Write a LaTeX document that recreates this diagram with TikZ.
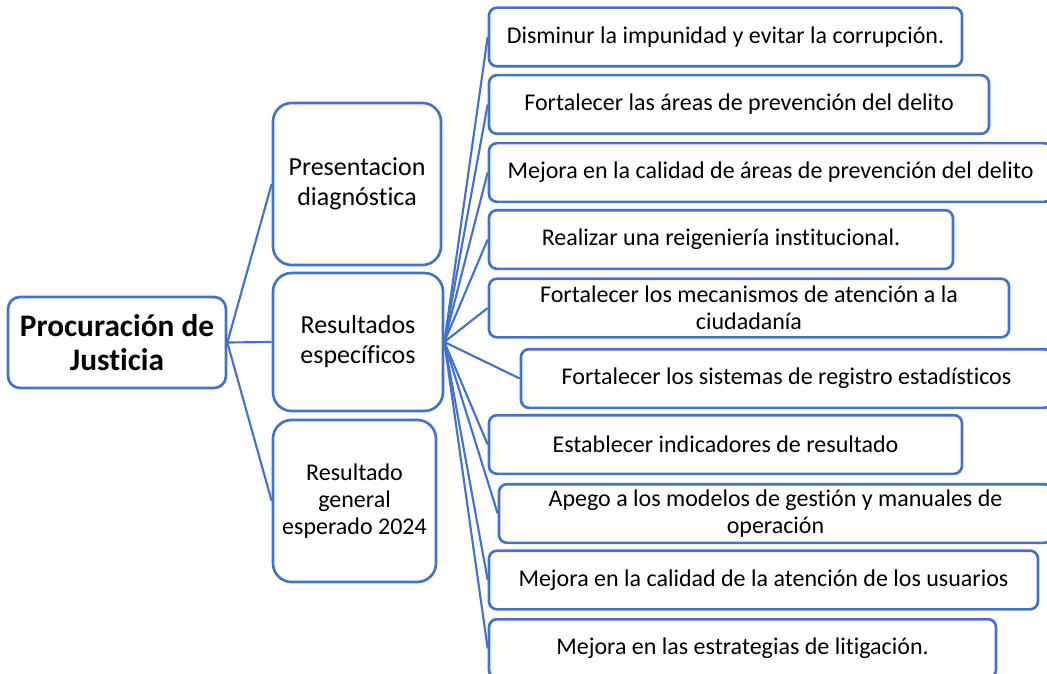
\documentclass[tikz,border=0pt]{standalone}
\usepackage{fontspec}
\setmainfont{Carlito}[RawFeature={-liga;-clig;-dlig;-calt}]
\usepackage{xcolor}
\usepackage{tikz}
\definecolor{smblue}{HTML}{4472C4}
\tikzset{
	mainbox/.style={draw=smblue, line width=2pt, rounded corners=9pt, align=center, inner sep=2pt, minimum width=163.5pt, minimum height=68.25pt, font=\fontsize{23.5}{25.5}\selectfont\bfseries},
	midbox/.style={draw=smblue, line width=2pt, rounded corners=14pt, align=center, inner sep=2pt, minimum height=121.5pt, font=\fontsize{19.5}{22.5}\selectfont},
	itembox/.style={draw=smblue, line width=2pt, rounded corners=6pt, align=center, inner sep=2pt, minimum height=44pt, font=\fontsize{18}{20}\selectfont},
	link/.style={draw=smblue, line width=1.6pt}
}
\begin{document}
\begin{tikzpicture}[x=0.75pt, y=-0.75pt]
	\useasboundingbox (0,0) rectangle (1047,674);
	\node [mainbox] (root) at (117,342.5) {Procuración de\\Justicia};
	\node [midbox, minimum width=126pt] (pd) at (357,184) {Presentacion\\diagnóstica};
	\node [midbox, minimum width=127.5pt, minimum height=103.5pt] (res) at (358,342) {Resultados\\específicos};
	\node [midbox, minimum width=122.25pt, font=\fontsize{18}{20}\selectfont] (gen) at (354.5,501) {Resultado\\general\\esperado 2024};
	\node [itembox, minimum width=354.75pt] (r1) at (725.5,37) {Disminur la impunidad y evitar la corrupción.};
	\node [itembox, minimum width=375pt] (r2) at (739,104.5) {Fortalecer las áreas de prevención del delito};
	\node [itembox, minimum width=422.25pt] (r3) at (770.5,172.5) {Mejora en la calidad de áreas de prevención del delito};
	\node [itembox, minimum width=348pt] (r4) at (721,239.5) {Realizar una reigeniería institucional.};
	\node [itembox, minimum width=390pt] (r5) at (749,308) {Fortalecer los mecanismos de atención a la\\ciudadanía};
	\node [itembox, minimum width=398.25pt] (r6) at (786.5,378.5) {Fortalecer los sistemas de registro estadísticos};
	\node [itembox, minimum width=354.75pt] (r7) at (725.5,444.5) {Establecer indicadores de resultado};
	\node [itembox, minimum width=414.75pt] (r8) at (775.5,513.5) {Apego a los modelos de gestión y manuales de\\operación};
	\node [itembox, minimum width=411.75pt] (r9) at (763.5,580) {Mejora en la calidad de la atención de los usuarios};
	\node [itembox, minimum width=380.25pt] (r10) at (742.5,648.5) {Mejora en las estrategias de litigación.};
	\draw [link] (root.east) -- (pd.west);
	\draw [link] (root.east) -- (res.west);
	\draw [link] (root.east) -- (gen.west);
	\foreach \r in {r1,r2,r3,r4,r5,r6,r7,r8,r9,r10}
		\draw [link] (res.east) -- (\r.west);
\end{tikzpicture}
\end{document}
